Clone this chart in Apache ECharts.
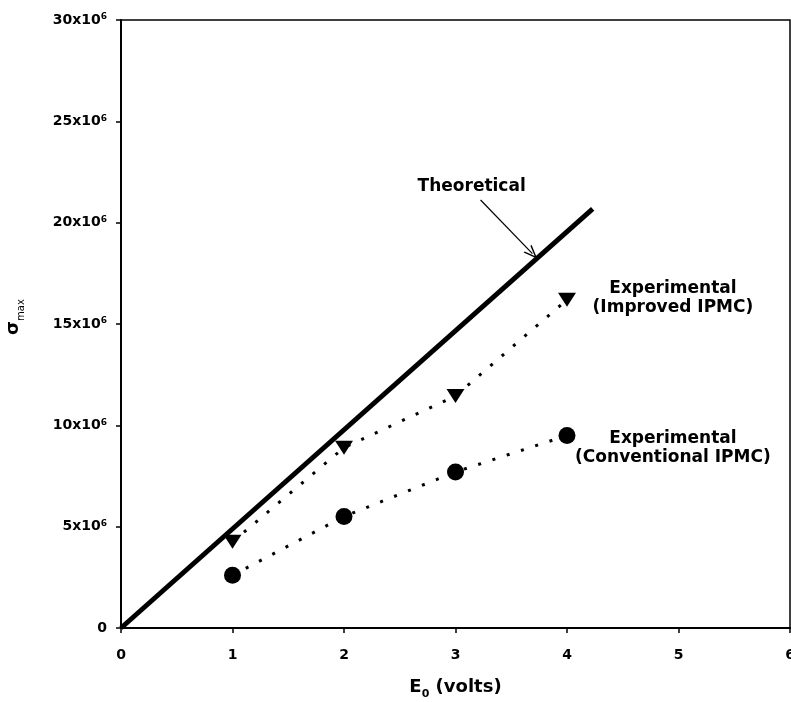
<!DOCTYPE html>
<html>
<head>
<meta charset="utf-8">
<script src="https://cdn.jsdelivr.net/npm/echarts@6/dist/echarts.min.js"></script>
<style>
  html, body { margin: 0; padding: 0; background: #fff; }
  #chart { width: 791px; height: 702px; }
</style>
</head>
<body>
<div id="chart"></div>
<script>
// Applied voltage (V) at which the bending stress was measured
const voltage = [1, 2, 3, 4];
// Maximum stress, improved IPMC (Pa)
const improvedStress = [4.25e6, 8.9e6, 11.45e6, 16.2e6];
// Maximum stress, conventional IPMC (Pa)
const conventionalStress = [2.6e6, 5.5e6, 7.7e6, 9.5e6];
// Theoretical straight line end points
const theoryVoltage = [0, 4.23];
const theoryStress = [0, 20.68e6];
// Axis ranges / ticks
const xTicks = [0, 1, 2, 3, 4, 5, 6];
const yTickStep = 5e6;
const yMax = 30e6;

const FONT = 'DejaVu Sans';
const pair = (xs, ys) => xs.map((x, i) => [x, ys[i]]);

const chart = echarts.init(document.getElementById('chart'), null, { renderer: 'canvas' });

const dotted = { color: '#000', width: 3, type: [3, 12], cap: 'butt' };
const textLabel = (text) => ({
  show: true, position: 'inside', formatter: text, color: '#000',
  fontFamily: FONT, fontWeight: 'bold', fontSize: 17, lineHeight: 19, align: 'center'
});

chart.setOption({
  animation: false,
  backgroundColor: '#fff',
  grid: {
    left: 121, right: 1, top: 20, bottom: 74,
    outerBoundsMode: 'none', containLabel: false,
    show: true, borderColor: '#000', borderWidth: 1.5, backgroundColor: 'transparent'
  },
  xAxis: {
    type: 'value', min: xTicks[0], max: xTicks[xTicks.length - 1], interval: 1,
    name: '{e|E}{s|0}{e| (volts)}', nameLocation: 'middle', nameGap: 50,
    nameTextStyle: {
      rich: {
        e: { fontFamily: FONT, fontWeight: 'bold', fontSize: 18, color: '#000', verticalAlign: 'bottom' },
        s: { fontFamily: FONT, fontWeight: 'bold', fontSize: 11, color: '#000', verticalAlign: 'bottom', padding: [0, 0, -4, 0] }
      }
    },
    axisLine: { show: true, onZero: false, lineStyle: { color: '#000', width: 2 } },
    axisTick: { show: true, inside: false, length: 5, lineStyle: { color: '#000', width: 1.5 } },
    axisLabel: { color: '#000', fontFamily: FONT, fontWeight: 'bold', fontSize: 14, margin: 20 },
    splitLine: { show: false }
  },
  yAxis: {
    type: 'value', min: 0, max: yMax, interval: yTickStep,
    name: '{g|σ}{s|max}', nameLocation: 'middle', nameGap: 99, nameRotate: 90,
    nameTextStyle: {
      padding: [0, 0, 0, 14],
      rich: {
        g: { fontFamily: FONT, fontWeight: 'bold', fontSize: 18, color: '#000', verticalAlign: 'bottom' },
        s: { fontFamily: FONT, fontSize: 10, color: '#000', verticalAlign: 'bottom', padding: [0, 0, -4, 0] }
      }
    },
    axisLine: { show: true, onZero: false, lineStyle: { color: '#000', width: 2 } },
    axisTick: { show: true, inside: false, length: 5, lineStyle: { color: '#000', width: 1.5 } },
    axisLabel: {
      margin: 14,
      formatter: (v) => v === 0 ? '{a|0}' : '{a|' + (v / 1e6) + 'x10}{b|6}',
      rich: {
        a: { fontFamily: FONT, fontWeight: 'bold', fontSize: 14, color: '#000' },
        b: { fontFamily: FONT, fontWeight: 'bold', fontSize: 9, color: '#000', verticalAlign: 'top', padding: [0, 0, 6, 0] }
      }
    },
    splitLine: { show: false }
  },
  series: [
    {
      name: 'Theoretical',
      type: 'line',
      data: pair(theoryVoltage, theoryStress),
      symbol: 'none',
      lineStyle: { color: '#000', width: 5 },
      z: 3,
      markLine: {
        silent: true,
        symbol: ['none', 'path://M5,0 L10,12 L8.6,12 L5,3.2 L1.4,12 L0,12 Z'],
        symbolSize: [11, 14],
        label: { show: false },
        lineStyle: { color: '#000', width: 1.2, type: 'solid' },
        data: [[{ coord: [3.225, 21.12e6] }, { coord: [3.69, 18.47e6] }]]
      },
      markPoint: {
        symbol: 'circle', symbolSize: 0, silent: true,
        label: textLabel('Theoretical'),
        data: [{ coord: [3.145, 21.76e6] }]
      }
    },
    {
      name: 'Experimental (Improved IPMC)',
      type: 'line',
      data: pair(voltage, improvedStress),
      symbol: 'triangle', symbolRotate: 180, symbolSize: [18, 14],
      itemStyle: { color: '#000' },
      lineStyle: dotted,
      z: 4,
      markPoint: {
        symbol: 'circle', symbolSize: 0, silent: true,
        label: textLabel('Experimental\n(Improved IPMC)'),
        data: [{ coord: [4.95, 16.26e6] }]
      }
    },
    {
      name: 'Experimental (Conventional IPMC)',
      type: 'line',
      data: pair(voltage, conventionalStress),
      symbol: 'circle', symbolSize: 17,
      itemStyle: { color: '#000' },
      lineStyle: dotted,
      z: 4,
      markPoint: {
        symbol: 'circle', symbolSize: 0, silent: true,
        label: textLabel('Experimental\n(Conventional IPMC)'),
        data: [{ coord: [4.95, 8.89e6] }]
      }
    }
  ]
});
</script>
</body>
</html>
